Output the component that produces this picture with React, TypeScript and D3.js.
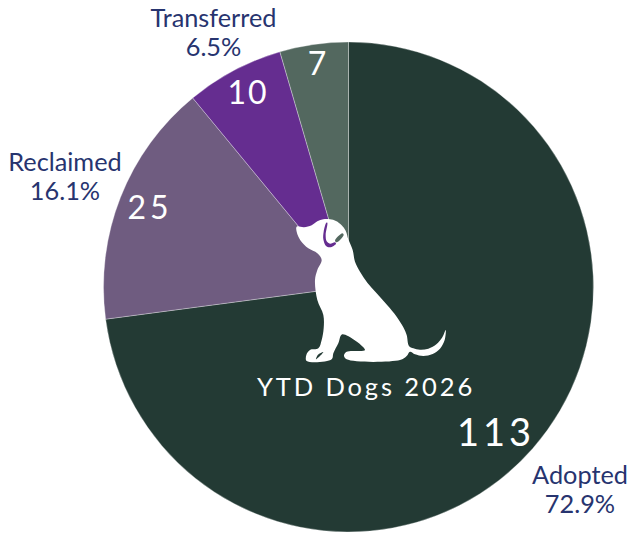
import React from "react";
import * as d3 from "d3";

const categories = ["Adopted", "Reclaimed", "Transferred", "Other"];
const values = [113, 25, 10, 7];
const colors = ["#233a34", "#6f5c80", "#652d90", "#53685f"];
const outerLabels = [
  { cat: "Adopted", pct: "72.9%", x: 580, y: 484 },
  { cat: "Reclaimed", pct: "16.1%", x: 65, y: 171 },
  { cat: "Transferred", pct: "6.5%", x: 213.5, y: 27 },
];
const valueLabels = [
  { text: "113", x: 496, y: 446, size: 38, ls: 4, weight: 400 },
  { text: "25", x: 150, y: 219, size: 32, ls: 4, weight: 400 },
  { text: "10", x: 248, y: 104, size: 32, ls: 2, weight: 400 },
  { text: "7", x: 317, y: 75, size: 32, ls: 0, weight: 400 },
];
const dogOutline: [number, number][] = [
  [50, 80], [72, 82], [95, 76], [112, 64], [130, 58], [150, 58], [168, 63], [185, 76], [197, 92], [205, 118], [218, 150],
  [225, 185], [240, 215], [262, 248], [290, 280], [322, 316], [350, 350], [370, 382], [380, 405], [387, 438],
  [400, 445], [420, 449], [445, 446], [470, 432], [487, 412], [497, 390], [494, 420], [480, 446], [458, 462], [430, 468], [405, 463], [390, 455],
  [380, 468], [360, 480], [200, 478], [192, 466], [200, 455], [255, 450], [187, 403], [175, 430], [160, 460], [155, 478],
  [80, 483], [79, 465], [90, 450], [115, 445], [125, 420], [131, 385], [130, 345], [112, 300], [105, 240], [112, 210], [125, 180],
  [112, 160], [85, 145], [62, 122], [50, 95],
];
const earPurple: [number, number][] = [[139, 68], [142, 68], [137, 105], [140, 124], [150, 131], [165, 127], [168, 131], [150, 142], [138, 138], [130, 118], [131, 95]];
const collar: [number, number][] = [[165, 122], [187, 100], [191, 105], [170, 127]];
const pawGap: [number, number][] = [[108, 478], [114, 464], [130, 456], [122, 466]];

const CX = 348.5, CY = 287, R = 245;
const toAbs = (pts: [number, number][]) =>
  (d3.line<[number, number]>().x((p) => 280 + p[0] / 3).y((p) => 200 + p[1] / 3).curve(d3.curveCatmullRomClosed.alpha(0.5))(pts)) as string;

export default function App() {
  const pie = d3.pie<number>().sort(null)(values);
  const arc = d3.arc<d3.PieArcDatum<number>>().innerRadius(0).outerRadius(R);
  const font = "Lato, 'Open Sans', sans-serif";
  return (
    <svg width={631} height={533} style={{ position: "absolute", left: 0, top: 0, fontFamily: font }}>
      <g transform={`translate(${CX},${CY})`}>
        {pie.map((d, i) => (
          <path key={categories[i]} d={arc(d) as string} fill={colors[i]} stroke="#fff" strokeOpacity={0.45} strokeWidth={0.7} />
        ))}
      </g>
      <path d={toAbs(dogOutline)} fill="#fff" />
      <path d={toAbs(earPurple)} fill="#652d90" />
      <path d={toAbs(collar)} fill="#53685f" />
      <path d={toAbs(pawGap)} fill="#233a34" />
      {valueLabels.map((v) => (
        <text key={v.text} x={v.x} y={v.y} fontSize={v.size} letterSpacing={v.ls} fontWeight={v.weight} fill="#fff" textAnchor="middle">{v.text}</text>
      ))}
      <text x={366} y={396} fontSize={25.5} letterSpacing={2.9} fill="#fff" textAnchor="middle">YTD Dogs 2026</text>
      {outerLabels.map((l) => (
        <text key={l.cat} textAnchor="middle" fontSize={25.3} fill="#27346f">
          <tspan x={l.x} y={l.y}>{l.cat}</tspan>
          <tspan x={l.x} y={l.y + 28.5}>{l.pct}</tspan>
        </text>
      ))}
    </svg>
  );
}
